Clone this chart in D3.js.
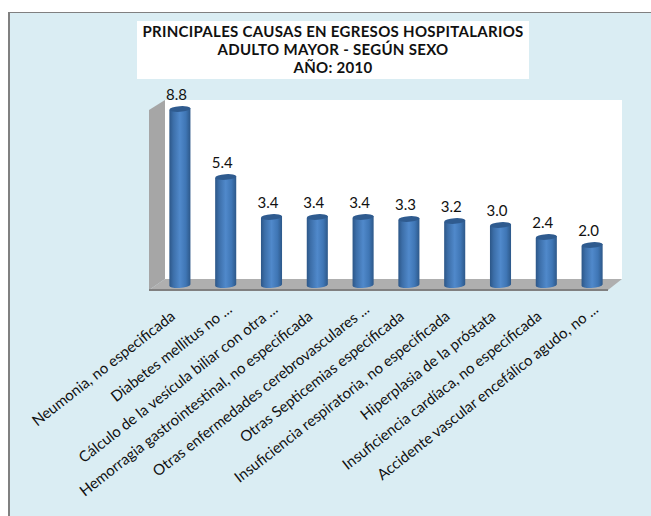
<!DOCTYPE html>
<html>
<head>
<meta charset="utf-8">
<script src="https://cdn.jsdelivr.net/npm/d3@7"></script>
<style>
    html, body { margin: 0; padding: 0; background: #fff; }
    svg { display: block; }
    text { font-family: Lato, "Open Sans", sans-serif; fill: #111; }
</style>
</head>
<body>
<svg id="chart" width="651" height="516"></svg>
<script>
const categories = [
    "Neumonia, no especificada",
    "Diabetes mellitus no ...",
    "Cálculo de la vesícula biliar con otra ...",
    "Hemorragia gastrointestinal, no especificada",
    "Otras enfermedades  cerebrovasculares ...",
    "Otras Septicemias especificada",
    "Insuficiencia respiratoria, no especificada",
    "Hiperplasia de la próstata",
    "Insuficiencia cardíaca, no especificada",
    "Accidente vascular encefálico agudo, no ..."
];
const values = [8.8, 5.4, 3.4, 3.4, 3.4, 3.3, 3.2, 3.0, 2.4, 2.0];
const titleLines = [
    "PRINCIPALES CAUSAS EN EGRESOS HOSPITALARIOS",
    "ADULTO MAYOR -  SEGÚN SEXO",
    "AÑO: 2010"
];

let canvas = d3.select("#chart");

// chart area, open on the right and bottom like the original crop
canvas.append("rect")
    .attr("x", 8).attr("y", 12)
    .attr("width", 643).attr("height", 504)
    .attr("fill", "#808080");
canvas.append("rect")
    .attr("x", 10).attr("y", 13)
    .attr("width", 641).attr("height", 503)
    .attr("fill", "#daedf3");

// title box
canvas.append("rect")
    .attr("x", 137).attr("y", 21)
    .attr("width", 392).attr("height", 58)
    .attr("fill", "#fff");
canvas.selectAll(".title")
    .data(titleLines)
    .enter()
    .append("text")
    .attr("class", "title")
    .attr("x", 333)
    .attr("y", (d, i) => 37 + i * 18)
    .attr("text-anchor", "middle")
    .attr("font-size", 15)
    .attr("letter-spacing", 0.3)
    .attr("font-weight", "bold")
    .text(d => d);

// 3d box
let wallLeft = 165, wallRight = 622, wallTop = 100, wallBottom = 279;
let frontLeft = 149, frontRight = 608, frontBottom = 290;

canvas.append("rect")
    .attr("x", wallLeft).attr("y", wallTop)
    .attr("width", wallRight - wallLeft).attr("height", wallBottom - wallTop)
    .attr("fill", "#fff");
canvas.append("polygon")
    .attr("points", [[frontLeft, wallTop + 10], [wallLeft, wallTop], [wallLeft, wallBottom], [frontLeft, frontBottom]].join(" "))
    .attr("fill", "#a6a6a6");
canvas.append("polygon")
    .attr("points", [[frontLeft, frontBottom], [wallLeft, wallBottom], [wallRight, wallBottom], [frontRight, frontBottom]].join(" "))
    .attr("fill", "#afafaf");
canvas.append("line")
    .attr("x1", frontLeft).attr("x2", frontRight)
    .attr("y1", frontBottom).attr("y2", frontBottom)
    .attr("stroke", "#808080").attr("stroke-width", 2);

let x = d3.scaleBand()
    .domain(categories)
    .range([157, 615])
    .paddingInner(0.54)
    .paddingOuter(0.27);
let y = d3.scaleLinear()
    .domain([0, 8.8])
    .range([285, 109]);

let grad = canvas.append("defs").append("linearGradient")
    .attr("id", "barFill");
[[0, "#2c5687"], [0.18, "#3c6ea8"], [0.5, "#5089cb"], [0.78, "#3f76b5"], [1, "#2d5889"]].forEach(s => {
    grad.append("stop").attr("offset", s[0]).attr("stop-color", s[1]);
});

let bars = canvas.selectAll(".bar")
    .data(values)
    .enter()
    .append("g")
    .attr("class", "bar")
    .attr("transform", (d, i) => "translate(" + (x(categories[i]) + x.bandwidth() / 2) + ",0)");

let rx = x.bandwidth() / 2;
bars.append("path")
    .attr("d", d => "M" + (-rx) + "," + (y(d) + 1) +
        "L" + (-rx) + "," + (y(0) + 0.5) +
        "A" + rx + ",3 -4 0 0 " + rx + "," + (y(0) - 0.5) +
        "L" + rx + "," + (y(d) - 1) + "Z")
    .attr("fill", "url(#barFill)");
bars.append("ellipse")
    .attr("rx", rx)
    .attr("ry", 2.8)
    .attr("transform", d => "translate(0," + y(d) + ") rotate(-4)")
    .attr("fill", "#2f5b8f");

bars.append("text")
    .attr("x", -3.5)
    .attr("y", d => y(d) - 9.5)
    .attr("text-anchor", "middle")
    .attr("font-size", 15)
    .text(d => d.toFixed(1));

// category labels, the cut ones sit a bit further up the slope
let xAxis = d3.axisBottom(x).tickSize(0);
canvas.append("g")
    .attr("id", "xAxis")
    .attr("transform", "translate(0,305)")
    .call(xAxis)
    .call(g => g.select(".domain").remove())
    .selectAll("text")
    .style("text-anchor", "end")
    .attr("font-size", 15)
    .attr("x", 0).attr("y", 0).attr("dy", ".35em")
    .attr("transform", d => d.endsWith("...") ? "translate(4,2) rotate(-38)" : "translate(-7,9) rotate(-38)");
</script>
</body>
</html>
